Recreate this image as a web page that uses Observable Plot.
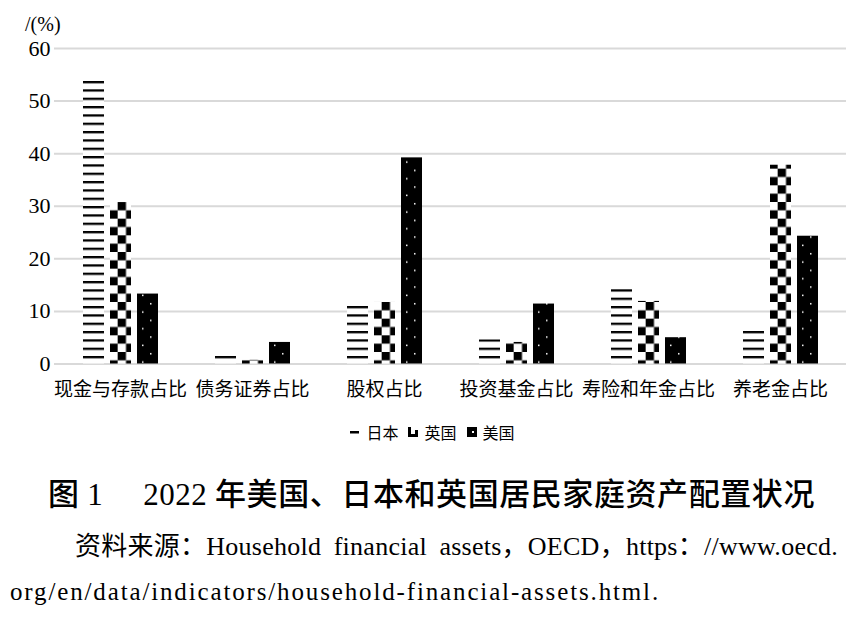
<!DOCTYPE html>
<html><head><meta charset="utf-8">
<script src="https://cdn.jsdelivr.net/npm/d3@7"></script>
<script src="https://cdn.jsdelivr.net/npm/@observablehq/plot@0.6"></script>
<style>
body{margin:0;background:#fff;width:865px;height:619px;position:relative;overflow:hidden;}
#chart{position:absolute;left:0;top:0;width:865px;height:400px;}
#unit{position:absolute;left:25px;top:12px;font-family:"Liberation Serif";font-size:20px;line-height:24px;color:#000;}
#legend{position:absolute;top:420px;left:0;width:865px;height:24px;display:flex;justify-content:center;align-items:center;font-family:"Noto Sans CJK SC";font-size:16px;color:#000;}
#legend .item{display:flex;align-items:center;margin:0 5px;}
#legend svg{margin-right:6px;}
#annot{position:absolute;left:0;top:400px;}
</style></head><body>
<div id="chart"></div>
<div id="unit">/(%)</div>
<div id="legend"></div>
<svg id="annot" width="865" height="219"></svg>
<script>
const categories = ["现金与存款占比","债务证券占比","股权占比","投资基金占比","寿险和年金占比","养老金占比"];
const countries = ["日本","英国","美国"];
const japan = [53.9, 1.5, 11.0, 4.6, 14.2, 6.2];
const uk = [30.7, 0.7, 11.7, 4.1, 11.9, 37.8];
const us = [13.3, 4.1, 39.2, 11.4, 5.0, 24.3];
const yTicks = [0, 10, 20, 30, 40, 50, 60];
const patternIds = ["pat-jp", "pat-uk", "pat-us"];
const titleText = ["图 ", "1\u3000 2022", " 年美国、日本和英国居民家庭资产配置状况"];
const caption1 = "资料来源：Household financial assets，OECD，https：//www.oecd.";
const caption2 = "org/en/data/indicators/household-financial-assets.html.";

const series = [japan, uk, us];
const table = categories.flatMap((c, i) => countries.map((k, j) => ({category: c, country: k, value: series[j][i]})));

const plot = Plot.plot({
  width: 865, height: 400,
  marginTop: 48, marginBottom: 36.5, marginLeft: 53, marginRight: 19,
  style: {fontFamily: '"Liberation Serif","Noto Sans CJK SC"', color: "#000", background: "#fff", overflow: "visible"},
  fx: {domain: categories, padding: 0, label: null},
  x: {domain: countries, paddingInner: 0.225, paddingOuter: 0.973, axis: null},
  y: {domain: [0, 60], ticks: yTicks, label: null},
  color: {domain: countries, range: patternIds.map(id => `url(#${id})`)},
  marks: [
    Plot.ruleY(yTicks, {stroke: "#d9d9d9", strokeWidth: 2}),
    Plot.barY(table, {fx: "category", x: "country", y: "value", fill: "country"}),
    Plot.axisY(yTicks, {tickSize: 0, tickPadding: 4, fontSize: 22, label: null}),
    Plot.axisFx({anchor: "bottom", tickSize: 0, tickPadding: 18, fontSize: 19, label: null, fontFamily: "Noto Sans CJK SC"})
  ]
});
document.getElementById("chart").appendChild(plot);

const defs = d3.select(plot).insert("defs", ":first-child");
const s = 8.333;
const pj = defs.append("pattern").attr("id", "pat-jp").attr("patternUnits", "userSpaceOnUse")
  .attr("x", 0).attr("y", 6).attr("width", 8).attr("height", s);
pj.append("rect").attr("width", 8).attr("height", s).attr("fill", "#fff");
pj.append("rect").attr("width", 8).attr("height", 2.3).attr("fill", "#000");
const pu = defs.append("pattern").attr("id", "pat-uk").attr("patternUnits", "userSpaceOnUse")
  .attr("x", 0).attr("y", 2).attr("width", 2 * s).attr("height", 2 * s);
pu.append("rect").attr("width", 2 * s).attr("height", 2 * s).attr("fill", "#fff");
pu.append("rect").attr("width", s).attr("height", s).attr("fill", "#000");
pu.append("rect").attr("x", s).attr("y", s).attr("width", s).attr("height", s).attr("fill", "#000");
const pus = defs.append("pattern").attr("id", "pat-us").attr("patternUnits", "userSpaceOnUse")
  .attr("x", 0).attr("y", 0).attr("width", 16).attr("height", 2 * s);
pus.append("rect").attr("width", 16).attr("height", 2 * s).attr("fill", "#000");
pus.append("rect").attr("x", 5).attr("y", 3).attr("width", 1.5).attr("height", 1.5).attr("fill", "#fff");
pus.append("rect").attr("x", 13).attr("y", 3 + s).attr("width", 1.5).attr("height", 1.5).attr("fill", "#fff");

// legend
const swatchDraw = [
  g => g.append("rect").attr("x", 0).attr("y", 4).attr("width", 9).attr("height", 2.5).attr("fill", "#000"),
  g => { g.append("rect").attr("x", 0).attr("y", 0).attr("width", 3).attr("height", 10).attr("fill", "#000");
         g.append("rect").attr("x", 0).attr("y", 7).attr("width", 10).attr("height", 3).attr("fill", "#000");
         g.append("rect").attr("x", 7).attr("y", 3).attr("width", 3).attr("height", 7).attr("fill", "#000"); },
  g => { g.append("rect").attr("width", 10).attr("height", 10).attr("fill", "#000");
         g.append("rect").attr("x", 5).attr("y", 4).attr("width", 2).attr("height", 2).attr("fill", "#fff"); }
];
const leg = d3.select("#legend");
countries.forEach((c, i) => {
  const it = leg.append("div").attr("class", "item");
  const sv = it.append("svg").attr("width", 10).attr("height", 10);
  swatchDraw[i](sv);
  it.append("span").text(c);
});

// title & caption
const an = d3.select("#annot");
const t = an.append("text").attr("x", 48).attr("y", 105).attr("font-size", 31);
t.append("tspan").attr("font-weight", 500).attr("font-family", '"Noto Sans CJK SC"').text(titleText[0]);
t.append("tspan").attr("font-family", '"Liberation Serif"').text(titleText[1]);
t.append("tspan").attr("font-weight", 500).attr("font-family", '"Noto Sans CJK SC"').text(titleText[2]);
const c1 = an.append("text").attr("x", 75).attr("y", 155).attr("font-size", 26)
  .attr("font-family", '"Liberation Serif","Noto Sans CJK SC"').text(caption1);
const c2 = an.append("text").attr("x", 10).attr("y", 200).attr("font-size", 25)
  .attr("font-family", '"Liberation Serif","Noto Sans CJK SC"').text(caption2);

function fitLetters(sel, target) {
  const n = sel.node();
  const w = n.getComputedTextLength();
  const chars = n.textContent.length;
  sel.style("letter-spacing", ((target - w) / chars) + "px");
}
function fitMixed(sel, target) {
  const n = sel.node();
  const w = n.getComputedTextLength();
  const chars = n.textContent.length;
  const spaces = (n.textContent.match(/ /g) || []).length;
  const extra = target - w;
  if (extra > 0 && spaces) {
    sel.style("letter-spacing", (extra * 0.55 / chars) + "px");
    sel.style("word-spacing", (extra * 0.45 / spaces) + "px");
  } else fitLetters(sel, target);
}
fitLetters(t, 767);
fitMixed(c1, 763);
fitLetters(c2, 650);
</script>
</body></html>
